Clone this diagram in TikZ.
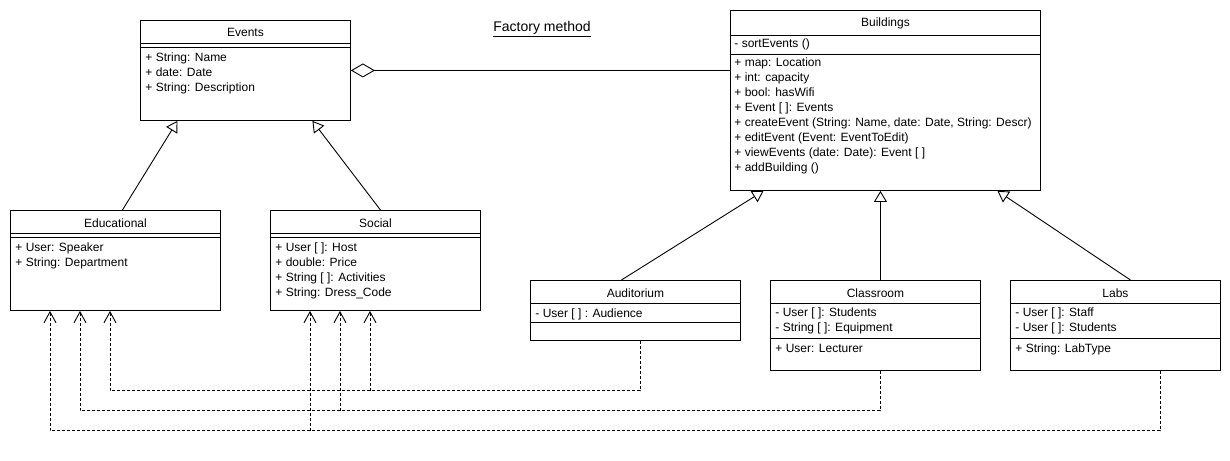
\documentclass[tikz,border=0pt]{standalone}
\usepackage{fontspec}
\setmainfont{Liberation Sans}
\usetikzlibrary{arrows.meta}
\tikzset{
  classbox/.style={draw, anchor=north west, minimum width=210pt, inner sep=0pt},
  classname/.style={anchor=base, inner sep=0pt},
  members/.style={anchor=north west, align=left, inner sep=0pt, execute at begin node=\strut},
  inherit/.style={-{Triangle[open, length=11pt, width=13pt]}},
  aggr/.style={{Diamond[open, length=24pt, width=14pt]}-},
  dep/.style={dash pattern=on 3pt off 2pt, -{Straight Barb[length=11pt, width=12pt]}},
}
\begin{document}
\begin{tikzpicture}[x=1pt, y=-1pt, line width=0.9pt, font=\fontsize{12}{15}\selectfont]
\path[use as bounding box] (0,0) rectangle (1230,460);
\node[font=\fontsize{14}{16}\selectfont] (title) at (542,29) {\underline{Factory method}};
% classes
\node[classbox, minimum height=100pt] (events) at (140,20) {};
\node[classbox, minimum width=310pt, minimum height=180pt] (buildings) at (730,10) {};
\node[classbox, minimum height=100pt] (educational) at (10,210) {};
\node[classbox, minimum height=100pt] (social) at (270,210) {};
\node[classbox, minimum height=60pt] (auditorium) at (530,280) {};
\node[classbox, minimum height=90pt] (classroom) at (770,280) {};
\node[classbox, minimum height=90pt] (labs) at (1010,280) {};
% class names
\node[classname] (eventsname) at ([yshift=-17pt]events.north) {Events};
\node[classname] (buildingsname) at ([yshift=-17pt]buildings.north) {Buildings};
\node[classname] (educationalname) at ([yshift=-17pt]educational.north) {Educational};
\node[classname] (socialname) at ([yshift=-17pt]social.north) {Social};
\node[classname] (auditoriumname) at ([yshift=-17pt]auditorium.north) {Auditorium};
\node[classname] (classroomname) at ([yshift=-17pt]classroom.north) {Classroom};
\node[classname] (labsname) at ([yshift=-17pt]labs.north) {Labs};
% compartments
\draw ([yshift=-23pt]events.north west) -- ([yshift=-23pt]events.north east);
\draw ([yshift=-27pt]events.north west) -- ([yshift=-27pt]events.north east);
\draw ([yshift=-25pt]buildings.north west) -- ([yshift=-25pt]buildings.north east);
\draw ([yshift=-44pt]buildings.north west) -- ([yshift=-44pt]buildings.north east);
\draw ([yshift=-23pt]educational.north west) -- ([yshift=-23pt]educational.north east);
\draw ([yshift=-27pt]educational.north west) -- ([yshift=-27pt]educational.north east);
\draw ([yshift=-23pt]social.north west) -- ([yshift=-23pt]social.north east);
\draw ([yshift=-27pt]social.north west) -- ([yshift=-27pt]social.north east);
\draw ([yshift=-23pt]auditorium.north west) -- ([yshift=-23pt]auditorium.north east);
\draw ([yshift=-42pt]auditorium.north west) -- ([yshift=-42pt]auditorium.north east);
\draw ([yshift=-23pt]classroom.north west) -- ([yshift=-23pt]classroom.north east);
\draw ([yshift=-58pt]classroom.north west) -- ([yshift=-58pt]classroom.north east);
\draw ([yshift=-23pt]labs.north west) -- ([yshift=-23pt]labs.north east);
\draw ([yshift=-58pt]labs.north west) -- ([yshift=-58pt]labs.north east);
% members
\node[members] (eventsattr) at ([shift={(5pt,-32.7pt)}]events.north west)
  {+ String: Name\\+ date: Date\\+ String: Description};
\node[members] (buildingsops) at ([shift={(4pt,-27pt)}]buildings.north west) {- sortEvents ()};
\node[members] (buildingsattr) at ([shift={(4pt,-47.3pt)}]buildings.north west)
  {+ map: Location\\+ int: capacity\\+ bool: hasWifi\\+ Event [ ]: Events\\
   + createEvent (String: Name, date: Date, String: Descr)\\+ editEvent (Event: EventToEdit)\\
   + viewEvents (date: Date): Event [ ]\\+ addBuilding ()};
\node[members] (educationalattr) at ([shift={(5pt,-32.7pt)}]educational.north west)
  {+ User: Speaker\\+ String: Department};
\node[members] (socialattr) at ([shift={(5pt,-32.7pt)}]social.north west)
  {+ User [ ]: Host\\+ double: Price\\+ String [ ]: Activities\\+ String: Dress\_Code};
\node[members] (auditoriumattr) at ([shift={(5pt,-27pt)}]auditorium.north west) {- User [ ] : Audience};
\node[members] (classroomattr) at ([shift={(5pt,-27pt)}]classroom.north west)
  {- User [ ]: Students\\- String [ ]: Equipment};
\node[members] (classroomops) at ([shift={(5pt,-61.5pt)}]classroom.north west) {+ User: Lecturer};
\node[members] (labsattr) at ([shift={(5pt,-27pt)}]labs.north west)
  {- User [ ]: Staff\\- User [ ]: Students};
\node[members] (labsops) at ([shift={(5pt,-61.5pt)}]labs.north west) {+ String: LabType};
% inheritance and aggregation
\draw[inherit] ([xshift=7pt]educational.north) -- ([xshift=-68pt]events.south);
\draw[inherit] ([xshift=5pt]social.north) -- ([xshift=67pt]events.south);
\draw[inherit] ([xshift=-14pt]auditorium.north) -- ([xshift=-122pt]buildings.south);
\draw[inherit] ([xshift=5pt]classroom.north) -- ([xshift=-5pt]buildings.south);
\draw[inherit] ([xshift=15pt]labs.north) -- ([xshift=112pt]buildings.south);
\draw[aggr] (events.east) -- (events.east -| buildings.west);
% dependencies
\coordinate (edu1) at ([xshift=40pt]educational.south west);
\coordinate (edu2) at ([xshift=70pt]educational.south west);
\coordinate (edu3) at ([xshift=100pt]educational.south west);
\coordinate (soc1) at ([xshift=40pt]social.south west);
\coordinate (soc2) at ([xshift=70pt]social.south west);
\coordinate (soc3) at ([xshift=100pt]social.south west);
\draw[dep] ([xshift=110pt]auditorium.south west) -- ++(0,50) coordinate (audbus) -| (edu3);
\draw[dep] (audbus -| soc3) -- (soc3);
\draw[dep] ([xshift=110pt]classroom.south west) -- ++(0,40) coordinate (clsbus) -| (edu2);
\draw[dep] (clsbus -| soc2) -- (soc2);
\draw[dep] ([xshift=150pt]labs.south west) -- ++(0,60) coordinate (labbus) -| (edu1);
\draw[dep] (labbus -| soc1) -- (soc1);
\end{tikzpicture}
\end{document}
